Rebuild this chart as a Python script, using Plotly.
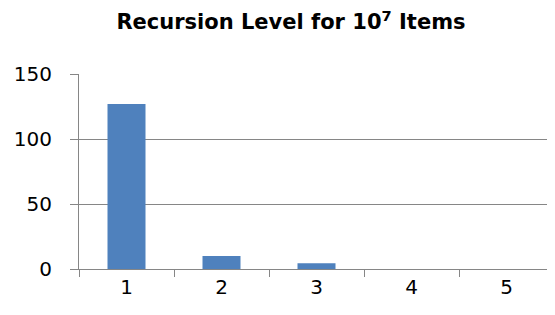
import plotly.graph_objects as go

categories = ["1", "2", "3", "4", "5"]
values = [127, 10, 4.5, 0, 0]
y_ticks = [0, 50, 100, 150]

# page body has an 8px default margin; size the figure to fit the window
W, H = 547, 307

fig = go.Figure()
fig.add_trace(go.Bar(x=categories, y=values, marker=dict(color="#4F81BD", line=dict(width=0))))

fig.update_layout(
    width=W, height=H,
    margin=dict(l=71, r=1, t=66, b=46, autoexpand=False),
    plot_bgcolor="white", paper_bgcolor="white",
    bargap=0.6,
    showlegend=False,
    title=dict(text="<b>Recursion Level for 10<sup>7</sup> Items</b>",
               x=283 / W, xanchor="center", y=1 - 14 / H, yanchor="middle",
               font=dict(family="DejaVu Sans", size=21, color="black")),
    font=dict(family="DejaVu Sans", size=20, color="black"),
)
fig.update_xaxes(
    type="category", showline=True, linecolor="#868686", linewidth=1,
    ticks="outside", tickson="boundaries", ticklen=7, tickcolor="#868686",
    showgrid=False, automargin=False, tickfont=dict(size=20, color="black"),
)
fig.update_yaxes(
    range=[0, 150], tickvals=y_ticks, showline=True, linecolor="#868686", linewidth=1,
    ticks="outside", ticklen=8, tickcolor="#868686", ticklabelstandoff=14,
    showgrid=True, gridcolor="#868686", gridwidth=1, zeroline=False,
    automargin=False, tickfont=dict(size=20, color="black"),
)

fig.write_html("out.html")
